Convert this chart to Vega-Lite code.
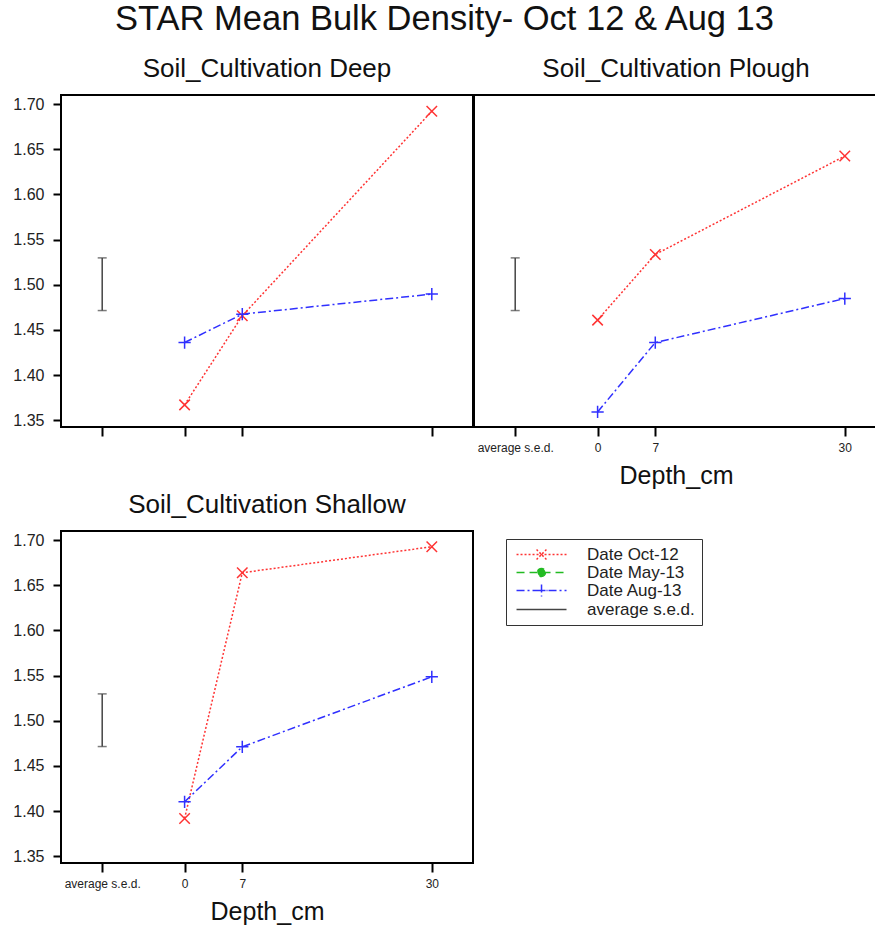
{
  "$schema": "https://vega.github.io/schema/vega-lite/v6.json",
  "padding": {"left": 10, "top": 1, "right": 0, "bottom": 0},
  "title": {"text": "STAR Mean Bulk Density- Oct 12 & Aug 13", "fontSize": 34.5, "font": "Liberation Sans", "fontWeight": "normal", "color": "#111", "anchor": "middle", "baseline": "alphabetic", "offset": -9},
  "config": {
    "font": "Liberation Sans",
    "view": {"stroke": "#000", "strokeWidth": 2},
    "title": {"fontSize": 26, "font": "Liberation Sans", "fontWeight": "normal", "color": "#111", "baseline": "alphabetic", "offset": 13, "anchor": "middle"},
    "axis": {"grid": false, "domain": false, "tickColor": "#000", "tickWidth": 2, "labelFont": "Liberation Sans", "labelColor": "#222", "titleFont": "Liberation Sans", "titleColor": "#111", "titleFontWeight": "normal"}
  },
  "datasets": {
    "bd": [
      {"p": "Deep", "Date": "Date Oct-12", "depth": 0, "bd": 1.367},
      {"p": "Deep", "Date": "Date Oct-12", "depth": 7, "bd": 1.4656},
      {"p": "Deep", "Date": "Date Oct-12", "depth": 30, "bd": 1.692},
      {"p": "Deep", "Date": "Date Aug-13", "depth": 0, "bd": 1.436},
      {"p": "Deep", "Date": "Date Aug-13", "depth": 7, "bd": 1.4674},
      {"p": "Deep", "Date": "Date Aug-13", "depth": 30, "bd": 1.4896},
      {"p": "Plough", "Date": "Date Oct-12", "depth": 0, "bd": 1.4608},
      {"p": "Plough", "Date": "Date Oct-12", "depth": 7, "bd": 1.5335},
      {"p": "Plough", "Date": "Date Oct-12", "depth": 30, "bd": 1.6424},
      {"p": "Plough", "Date": "Date Aug-13", "depth": 0, "bd": 1.3592},
      {"p": "Plough", "Date": "Date Aug-13", "depth": 7, "bd": 1.436},
      {"p": "Plough", "Date": "Date Aug-13", "depth": 30, "bd": 1.4847},
      {"p": "Shallow", "Date": "Date Oct-12", "depth": 0, "bd": 1.3918},
      {"p": "Shallow", "Date": "Date Oct-12", "depth": 7, "bd": 1.6638},
      {"p": "Shallow", "Date": "Date Oct-12", "depth": 30, "bd": 1.6926},
      {"p": "Shallow", "Date": "Date Aug-13", "depth": 0, "bd": 1.4102},
      {"p": "Shallow", "Date": "Date Aug-13", "depth": 7, "bd": 1.4711},
      {"p": "Shallow", "Date": "Date Aug-13", "depth": 30, "bd": 1.5486}
    ],
    "sed": [
      {"p": "Deep", "x": -10, "lo": 1.4714, "hi": 1.5297},
      {"p": "Plough", "x": -10, "lo": 1.4714, "hi": 1.5297},
      {"p": "Shallow", "x": -10, "lo": 1.4714, "hi": 1.5297}
    ]
  },
  "vconcat": [
    {
      "hconcat": [
        {
          "title": "Soil_Cultivation Deep",
          "width": 412, "height": 332,
          "layer": [
            {
              "data": {"name": "bd"},
              "transform": [{"filter": "datum.p === 'Deep'"}],
              "mark": {"type": "line", "strokeWidth": 1.5},
              "encoding": {
                "x": {"field": "depth", "type": "quantitative", "scale": {"domain": [-15, 35], "nice": false, "zero": false}, "axis": {"values": [-10, 0, 7, 30], "labels": false, "tickSize": 9, "title": null}},
                "y": {"field": "bd", "type": "quantitative", "scale": {"domain": [1.3425, 1.71], "nice": false, "zero": false}, "axis": {"values": [1.35, 1.4, 1.45, 1.5, 1.55, 1.6, 1.65, 1.7], "format": ".2f", "tickSize": 8, "labelFontSize": 16, "labelPadding": 9, "minExtent": 50, "maxExtent": 50, "title": null}},
                "color": {"field": "Date", "type": "nominal", "scale": {"domain": ["Date Oct-12", "Date May-13", "Date Aug-13", "average s.e.d."], "range": ["#ff3333", "#22bb22", "#3030ff", "#444444"]},
                  "legend": {"title": null, "orient": "none", "legendX": 445, "legendY": 444, "labelFontSize": 17, "labelColor": "#222", "labelFont": "Liberation Sans", "labelOffset": 57, "rowPadding": 0, "padding": 7, "strokeColor": "#333", "fillColor": "#fff", "symbolSize": 196, "symbolStrokeWidth": 1.5,
                    "encode": {"symbols": {"update": {
                      "shape": {"signal": "datum.value === 'Date Oct-12' ? 'M-0.71,0H6.43M2.15,-0.71L3.57,0.71M2.15,0.71L3.57,-0.71' : datum.value === 'Date May-13' ? 'M-0.71,0H6.43M3.43,0A0.57,0.57,0,1,1,2.29,0A0.57,0.57,0,1,1,3.43,0Z' : datum.value === 'Date Aug-13' ? 'M-0.71,0H6.43M2.86,-0.86V0.86M2,0H3.72' : 'M-0.71,0H6.43'"},
                      "strokeDash": {"signal": "datum.value === 'Date Oct-12' ? [2,2] : datum.value === 'Date May-13' ? [8,5] : datum.value === 'Date Aug-13' ? [8,3,2,3] : [1,0]"},
                      "fill": {"signal": "datum.value === 'Date May-13' ? '#22bb22' : 'transparent'"},
                      "strokeWidth": {"value": 1.5}
                    }}}}},
                "strokeDash": {"field": "Date", "type": "nominal", "scale": {"domain": ["Date Oct-12", "Date May-13", "Date Aug-13", "average s.e.d."], "range": [[2, 2], [8, 5], [8, 3, 2, 3], [1, 0]]}, "legend": null}
              }
            },
            {
              "data": {"name": "bd"},
              "transform": [{"filter": "datum.p === 'Deep' && datum.Date === 'Date Oct-12'"}],
              "mark": {"type": "point", "filled": false, "strokeWidth": 1.5, "opacity": 1, "color": "#ff3333", "shape": "M-1,-1L1,1M-1,1L1,-1", "size": 110},
              "encoding": {"x": {"field": "depth", "type": "quantitative"}, "y": {"field": "bd", "type": "quantitative"}}
            },
            {
              "data": {"name": "bd"},
              "transform": [{"filter": "datum.p === 'Deep' && datum.Date === 'Date Aug-13'"}],
              "mark": {"type": "point", "filled": false, "strokeWidth": 1.5, "opacity": 1, "color": "#3030ff", "shape": "M-1,0H1M0,-1V1", "size": 150},
              "encoding": {"x": {"field": "depth", "type": "quantitative"}, "y": {"field": "bd", "type": "quantitative"}}
            },
            {
              "data": {"name": "sed"},
              "transform": [{"filter": "datum.p === 'Deep'"}],
              "mark": {"type": "rule", "color": "#444", "strokeWidth": 1.5},
              "encoding": {"x": {"field": "x", "type": "quantitative"}, "y": {"field": "lo", "type": "quantitative"}, "y2": {"field": "hi"}}
            },
            {
              "data": {"name": "sed"},
              "transform": [{"filter": "datum.p === 'Deep'"}],
              "mark": {"type": "tick", "orient": "horizontal", "color": "#444", "size": 9, "thickness": 1.5},
              "encoding": {"x": {"field": "x", "type": "quantitative"}, "y": {"field": "lo", "type": "quantitative"}}
            },
            {
              "data": {"name": "sed"},
              "transform": [{"filter": "datum.p === 'Deep'"}],
              "mark": {"type": "tick", "orient": "horizontal", "color": "#444", "size": 9, "thickness": 1.5},
              "encoding": {"x": {"field": "x", "type": "quantitative"}, "y": {"field": "hi", "type": "quantitative"}}
            }
          ]
        },
        {
          "title": "Soil_Cultivation Plough",
          "width": 404, "height": 332,
          "layer": [
            {
              "data": {"name": "bd"},
              "transform": [{"filter": "datum.p === 'Plough'"}],
              "mark": {"type": "line", "strokeWidth": 1.5},
              "encoding": {
                "x": {"field": "depth", "type": "quantitative", "scale": {"domain": [-15, 34.03], "nice": false, "zero": false}, "axis": {"values": [-10, 0, 7, 30], "labelExpr": "datum.value == -10 ? 'average s.e.d.' : datum.label", "labelFontSize": 12, "tickSize": 9, "labelPadding": 6, "title": "Depth_cm", "titleFontSize": 25, "titlePadding": 10}},
                "y": {"field": "bd", "type": "quantitative", "scale": {"domain": [1.3425, 1.71], "nice": false, "zero": false}, "axis": null},
                "color": {"field": "Date", "type": "nominal", "scale": {"domain": ["Date Oct-12", "Date May-13", "Date Aug-13", "average s.e.d."], "range": ["#ff3333", "#22bb22", "#3030ff", "#444444"]}},
                "strokeDash": {"field": "Date", "type": "nominal", "scale": {"domain": ["Date Oct-12", "Date May-13", "Date Aug-13", "average s.e.d."], "range": [[2, 2], [8, 5], [8, 3, 2, 3], [1, 0]]}, "legend": null}
              }
            },
            {
              "data": {"name": "bd"},
              "transform": [{"filter": "datum.p === 'Plough' && datum.Date === 'Date Oct-12'"}],
              "mark": {"type": "point", "filled": false, "strokeWidth": 1.5, "opacity": 1, "color": "#ff3333", "shape": "M-1,-1L1,1M-1,1L1,-1", "size": 110},
              "encoding": {"x": {"field": "depth", "type": "quantitative"}, "y": {"field": "bd", "type": "quantitative"}}
            },
            {
              "data": {"name": "bd"},
              "transform": [{"filter": "datum.p === 'Plough' && datum.Date === 'Date Aug-13'"}],
              "mark": {"type": "point", "filled": false, "strokeWidth": 1.5, "opacity": 1, "color": "#3030ff", "shape": "M-1,0H1M0,-1V1", "size": 150},
              "encoding": {"x": {"field": "depth", "type": "quantitative"}, "y": {"field": "bd", "type": "quantitative"}}
            },
            {
              "data": {"name": "sed"},
              "transform": [{"filter": "datum.p === 'Plough'"}],
              "mark": {"type": "rule", "color": "#444", "strokeWidth": 1.5},
              "encoding": {"x": {"field": "x", "type": "quantitative"}, "y": {"field": "lo", "type": "quantitative"}, "y2": {"field": "hi"}}
            },
            {
              "data": {"name": "sed"},
              "transform": [{"filter": "datum.p === 'Plough'"}],
              "mark": {"type": "tick", "orient": "horizontal", "color": "#444", "size": 9, "thickness": 1.5},
              "encoding": {"x": {"field": "x", "type": "quantitative"}, "y": {"field": "lo", "type": "quantitative"}}
            },
            {
              "data": {"name": "sed"},
              "transform": [{"filter": "datum.p === 'Plough'"}],
              "mark": {"type": "tick", "orient": "horizontal", "color": "#444", "size": 9, "thickness": 1.5},
              "encoding": {"x": {"field": "x", "type": "quantitative"}, "y": {"field": "hi", "type": "quantitative"}}
            }
          ]
        }
      ],
      "spacing": -2
    },
    {
      "title": "Soil_Cultivation Shallow",
      "width": 412, "height": 332,
      "layer": [
        {
          "data": {"name": "bd"},
          "transform": [{"filter": "datum.p === 'Shallow'"}],
          "mark": {"type": "line", "strokeWidth": 1.5},
          "encoding": {
            "x": {"field": "depth", "type": "quantitative", "scale": {"domain": [-15, 35], "nice": false, "zero": false}, "axis": {"values": [-10, 0, 7, 30], "labelExpr": "datum.value == -10 ? 'average s.e.d.' : datum.label", "labelFontSize": 12, "tickSize": 9, "labelPadding": 6, "title": "Depth_cm", "titleFontSize": 25, "titlePadding": 10}},
            "y": {"field": "bd", "type": "quantitative", "scale": {"domain": [1.3425, 1.71], "nice": false, "zero": false}, "axis": {"values": [1.35, 1.4, 1.45, 1.5, 1.55, 1.6, 1.65, 1.7], "format": ".2f", "tickSize": 8, "labelFontSize": 16, "labelPadding": 9, "minExtent": 50, "maxExtent": 50, "title": null}},
            "color": {"field": "Date", "type": "nominal", "scale": {"domain": ["Date Oct-12", "Date May-13", "Date Aug-13", "average s.e.d."], "range": ["#ff3333", "#22bb22", "#3030ff", "#444444"]}},
            "strokeDash": {"field": "Date", "type": "nominal", "scale": {"domain": ["Date Oct-12", "Date May-13", "Date Aug-13", "average s.e.d."], "range": [[2, 2], [8, 5], [8, 3, 2, 3], [1, 0]]}, "legend": null}
          }
        },
        {
          "data": {"name": "bd"},
          "transform": [{"filter": "datum.p === 'Shallow' && datum.Date === 'Date Oct-12'"}],
          "mark": {"type": "point", "filled": false, "strokeWidth": 1.5, "opacity": 1, "color": "#ff3333", "shape": "M-1,-1L1,1M-1,1L1,-1", "size": 110},
          "encoding": {"x": {"field": "depth", "type": "quantitative"}, "y": {"field": "bd", "type": "quantitative"}}
        },
        {
          "data": {"name": "bd"},
          "transform": [{"filter": "datum.p === 'Shallow' && datum.Date === 'Date Aug-13'"}],
          "mark": {"type": "point", "filled": false, "strokeWidth": 1.5, "opacity": 1, "color": "#3030ff", "shape": "M-1,0H1M0,-1V1", "size": 150},
          "encoding": {"x": {"field": "depth", "type": "quantitative"}, "y": {"field": "bd", "type": "quantitative"}}
        },
        {
          "data": {"name": "sed"},
          "transform": [{"filter": "datum.p === 'Shallow'"}],
          "mark": {"type": "rule", "color": "#444", "strokeWidth": 1.5},
          "encoding": {"x": {"field": "x", "type": "quantitative"}, "y": {"field": "lo", "type": "quantitative"}, "y2": {"field": "hi"}}
        },
        {
          "data": {"name": "sed"},
          "transform": [{"filter": "datum.p === 'Shallow'"}],
          "mark": {"type": "tick", "orient": "horizontal", "color": "#444", "size": 9, "thickness": 1.5},
          "encoding": {"x": {"field": "x", "type": "quantitative"}, "y": {"field": "lo", "type": "quantitative"}}
        },
        {
          "data": {"name": "sed"},
          "transform": [{"filter": "datum.p === 'Shallow'"}],
          "mark": {"type": "tick", "orient": "horizontal", "color": "#444", "size": 9, "thickness": 1.5},
          "encoding": {"x": {"field": "x", "type": "quantitative"}, "y": {"field": "hi", "type": "quantitative"}}
        }
      ]
    }
  ],
  "spacing": 2
}
